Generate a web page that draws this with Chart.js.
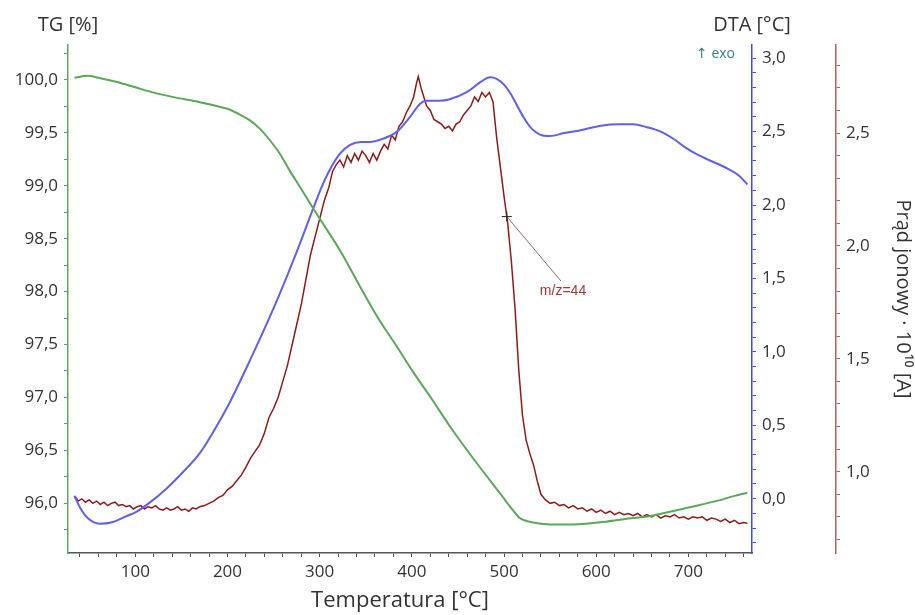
<!DOCTYPE html>
<html>
<head>
<meta charset="utf-8">
<script src="https://cdn.jsdelivr.net/npm/chart.js@4.4.0/dist/chart.umd.min.js"></script>
<style>
body { margin: 0; background: #fff; }
#wrap { width: 915px; height: 615px; }
</style>
</head>
<body>
<div id="wrap"><canvas id="chart" width="915" height="615"></canvas></div>
<script>
// Krzywa TG (zielona)
const tgTemp = [34, 48, 60, 80, 100, 120, 140, 170, 185, 202, 214, 224, 235, 246, 257, 267, 280, 292, 303, 322, 343, 362, 383, 403, 422, 441, 466, 496, 510, 517, 530, 550, 575, 604, 630, 659, 680, 700, 730, 750, 764];
const tgValues = [100.02, 100.04, 100.02, 99.98, 99.93, 99.88, 99.84, 99.79, 99.76, 99.72, 99.67, 99.62, 99.54, 99.43, 99.30, 99.15, 98.97, 98.80, 98.65, 98.39, 98.06, 97.77, 97.49, 97.22, 96.98, 96.73, 96.43, 96.09, 95.93, 95.86, 95.82, 95.80, 95.80, 95.82, 95.85, 95.88, 95.92, 95.96, 96.02, 96.07, 96.10];

// Krzywa DTA (niebieska)
const dtaTemp = [34, 40, 48, 61, 75, 90, 101, 117, 134, 150, 170, 185, 202, 225, 246, 257, 275, 292, 302, 311, 322, 333, 345, 354, 368, 384, 398, 409, 416, 430, 441, 460, 475, 485, 492, 500, 507, 514, 521, 530, 539, 550, 565, 583, 605, 626, 640, 655, 670, 684, 695, 705, 721, 742, 755, 764];
const dtaValues = [0.02, -0.06, -0.13, -0.17, -0.16, -0.12, -0.09, -0.02, 0.07, 0.17, 0.31, 0.46, 0.65, 0.95, 1.24, 1.40, 1.68, 1.96, 2.12, 2.24, 2.35, 2.41, 2.43, 2.43, 2.45, 2.50, 2.60, 2.69, 2.71, 2.71, 2.72, 2.77, 2.84, 2.87, 2.86, 2.82, 2.76, 2.68, 2.60, 2.52, 2.48, 2.47, 2.49, 2.51, 2.54, 2.55, 2.55, 2.53, 2.50, 2.45, 2.40, 2.36, 2.31, 2.25, 2.20, 2.14];

// Prad jonowy m/z=44 (czerwona)
const ionTemp = [35, 38, 42, 46, 50, 54, 58, 62, 66, 70, 74, 78, 82, 86, 90, 94, 98, 102, 106, 110, 114, 118, 122, 126, 130, 134, 138, 142, 146, 150, 154, 158, 162, 166, 170, 175, 180, 185, 190, 195, 200, 205, 210, 215, 220, 225, 230, 235, 240, 245, 250, 255, 260, 265, 270, 275, 280, 285, 290, 295, 300, 305, 310, 314, 318, 322, 326, 330, 334, 338, 342, 346, 350, 354, 358, 362, 366, 370, 374, 378, 382, 386, 390, 394, 398, 402, 405, 407, 410, 413, 416, 420, 424, 428, 432, 436, 440, 444, 448, 452, 456, 460, 464, 468, 472, 476, 480, 484, 488, 492, 496, 500, 504, 508, 512, 516, 520, 524, 528, 532, 536, 540, 545, 550, 555, 560, 565, 570, 575, 580, 585, 590, 595, 600, 605, 610, 615, 620, 625, 630, 635, 640, 645, 650, 655, 660, 665, 670, 675, 680, 685, 690, 695, 700, 705, 710, 715, 720, 725, 730, 735, 740, 745, 750, 755, 760, 764];
const ionValues = [0.89, 0.87, 0.88, 0.865, 0.875, 0.86, 0.87, 0.855, 0.865, 0.85, 0.86, 0.865, 0.85, 0.855, 0.845, 0.85, 0.835, 0.845, 0.85, 0.835, 0.845, 0.84, 0.85, 0.835, 0.83, 0.84, 0.83, 0.835, 0.845, 0.83, 0.835, 0.825, 0.84, 0.835, 0.845, 0.85, 0.86, 0.87, 0.885, 0.895, 0.92, 0.935, 0.96, 0.985, 1.02, 1.06, 1.09, 1.12, 1.17, 1.24, 1.28, 1.33, 1.40, 1.47, 1.56, 1.65, 1.74, 1.85, 1.96, 2.04, 2.12, 2.20, 2.26, 2.33, 2.36, 2.38, 2.35, 2.40, 2.37, 2.41, 2.38, 2.42, 2.40, 2.37, 2.41, 2.38, 2.42, 2.45, 2.43, 2.49, 2.47, 2.53, 2.55, 2.59, 2.62, 2.66, 2.72, 2.75, 2.70, 2.66, 2.62, 2.60, 2.56, 2.55, 2.54, 2.52, 2.53, 2.51, 2.54, 2.55, 2.58, 2.60, 2.62, 2.66, 2.64, 2.68, 2.66, 2.68, 2.64, 2.48, 2.35, 2.22, 2.10, 1.93, 1.72, 1.45, 1.25, 1.14, 1.08, 1.03, 0.96, 0.90, 0.875, 0.86, 0.865, 0.85, 0.855, 0.84, 0.85, 0.835, 0.84, 0.825, 0.835, 0.82, 0.83, 0.815, 0.825, 0.81, 0.82, 0.81, 0.815, 0.805, 0.815, 0.80, 0.81, 0.80, 0.81, 0.795, 0.805, 0.80, 0.81, 0.795, 0.80, 0.79, 0.80, 0.795, 0.80, 0.785, 0.795, 0.79, 0.78, 0.79, 0.775, 0.785, 0.77, 0.775, 0.772];

// Opisy osi
const xTicks = [100, 200, 300, 400, 500, 600, 700];
const tgTicks = [96.0, 96.5, 97.0, 97.5, 98.0, 98.5, 99.0, 99.5, 100.0];
const dtaTicks = [0.0, 0.5, 1.0, 1.5, 2.0, 2.5, 3.0];
const ionTicks = [1.0, 1.5, 2.0, 2.5];

// Adnotacja m/z=44
const markTemp = 503, markIon = 2.13;
const labelTemp = 564, labelIon = 1.80;
const labelText = 'm/z=44';

const toPoints = (xs, ys) => xs.map((t, i) => ({ x: t, y: ys[i] }));

// pomocnicze: male kreski co krok
function steps(from, to, step) {
    const out = [];
    const n = Math.round((to - from) / step);
    for (let i = 0; i <= n; i++) out.push(+(from + i * step).toFixed(4));
    return out;
}
const isMajor = (v, list) => list.some(m => Math.abs(m - v) < 1e-6);
const fmt = v => v.toFixed(1).replace('.', ',');

const FONT = '"Open Sans", "DejaVu Sans", sans-serif';
const tickFont = { family: FONT, size: 17 };

function yAxis(position, min, max, minor, major, color, width) {
    return {
        type: 'linear',
        position: position,
        min: min,
        max: max,
        border: { display: true, color: color, width: 1.5 },
        grid: { drawOnChartArea: false, drawTicks: true, tickLength: 4, color: color },
        ticks: {
            autoSkip: false,
            padding: 6,
            color: '#333',
            font: tickFont,
            callback: v => isMajor(v, major) ? fmt(v) : ''
        },
        afterBuildTicks: axis => { axis.ticks = minor.map(v => ({ value: v })); },
        afterFit: axis => { axis.width = width; }
    };
}

const extraText = {
    id: 'extraText',
    afterDraw(chart) {
        const ctx = chart.ctx;
        const sx = chart.scales.x, sIon = chart.scales.yIon;
        ctx.save();
        ctx.fillStyle = '#333';
        ctx.font = '20px ' + FONT;
        ctx.textAlign = 'center';
        ctx.textBaseline = 'middle';
        ctx.fillText('TG [%]', chart.scales.yTG.right, 25);
        ctx.fillText('DTA [°C]', chart.scales.yDTA.left, 25);

        // tytul osi X
        ctx.font = '22px ' + FONT;
        ctx.fillText('Temperatura [°C]', 400, 601);

        ctx.textAlign = 'right';
        ctx.font = '14px ' + FONT;
        ctx.fillStyle = '#3a8080';
        ctx.fillText('↑ exo', chart.chartArea.right - 17, 54);

        // znacznik na krzywej i linia do opisu
        const mx = sx.getPixelForValue(markTemp), my = sIon.getPixelForValue(markIon);
        const lx = sx.getPixelForValue(labelTemp), ly = sIon.getPixelForValue(labelIon);
        ctx.strokeStyle = '#8a6a78';
        ctx.lineWidth = 1;
        ctx.beginPath();
        ctx.moveTo(mx, my);
        ctx.lineTo(lx - 2, ly - 10);
        ctx.stroke();
        ctx.strokeStyle = '#222';
        ctx.beginPath();
        ctx.moveTo(mx - 5, my); ctx.lineTo(mx + 5, my);
        ctx.moveTo(mx, my - 5); ctx.lineTo(mx, my + 5);
        ctx.stroke();
        ctx.fillStyle = '#a03838';
        ctx.font = '14px "Liberation Sans", sans-serif';
        ctx.textAlign = 'center';
        ctx.fillText(labelText, lx, ly);
        ctx.restore();
    }
};

const ctx = document.getElementById('chart').getContext('2d');
new Chart(ctx, {
    type: 'line',
    data: {
        datasets: [
            {
                label: 'TG',
                data: toPoints(tgTemp, tgValues),
                yAxisID: 'yTG',
                borderColor: '#5aa85a',
                borderWidth: 2,
                pointRadius: 0,
                cubicInterpolationMode: 'monotone'
            },
            {
                label: 'DTA',
                data: toPoints(dtaTemp, dtaValues),
                yAxisID: 'yDTA',
                borderColor: '#5f5ff0',
                borderWidth: 2,
                pointRadius: 0,
                cubicInterpolationMode: 'monotone'
            },
            {
                label: 'm/z=44',
                data: toPoints(ionTemp, ionValues),
                yAxisID: 'yIon',
                borderColor: '#8c1c1c',
                borderWidth: 1.5,
                pointRadius: 0,
                tension: 0
            }
        ]
    },
    options: {
        responsive: false,
        animation: false,
        devicePixelRatio: 1,
        layout: { padding: { top: 45, left: 0, right: 0, bottom: 0 } },
        plugins: { legend: { display: false }, tooltip: { enabled: false } },
        scales: {
            x: {
                type: 'linear',
                min: 27,
                max: 769,
                border: { display: true, color: '#555', width: 1.5 },
                grid: { drawOnChartArea: false, drawTicks: true, tickLength: 4, color: '#555' },
                ticks: {
                    autoSkip: false,
                    maxRotation: 0,
                    padding: 5,
                    color: '#333',
                    font: tickFont,
                    callback: v => isMajor(v, xTicks) ? String(Math.round(v)) : ''
                },
                afterBuildTicks: axis => { axis.ticks = steps(40, 760, 20).map(v => ({ value: v })); },
                afterFit: axis => { axis.height = 62; }
            },
            yTG: yAxis('left', 95.53, 100.33, steps(95.75, 100.25, 0.25), tgTicks, '#5aa85a', 68),
            yDTA: yAxis('right', -0.37, 3.09, steps(-0.3, 3.0, 0.1), dtaTicks, '#4848e8', 84),
            yIon: Object.assign(yAxis('right', 0.64, 2.89, steps(0.7, 2.8, 0.1), ionTicks, '#b06060', 79), {
                title: {
                    display: true,
                    text: 'Prąd jonowy · 10¹⁰ [A]',
                    color: '#333',
                    font: { family: FONT, size: 20 },
                    padding: { top: 0, bottom: 0 }
                }
            })
        }
    },
    plugins: [extraText]
});
</script>
</body>
</html>
